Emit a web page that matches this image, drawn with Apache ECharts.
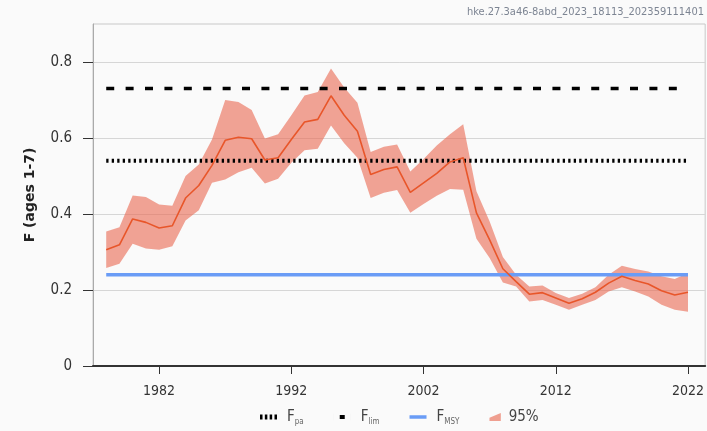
<!DOCTYPE html>
<html lang="en">
<head>
    <meta charset="UTF-8">
    <title>F (ages 1-7)</title>
    <script src="https://cdn.jsdelivr.net/npm/echarts@6/dist/echarts.min.js"></script>
    <style>
        html, body { margin: 0; padding: 0; background: #fafafa; }
        #chart { width: 707px; height: 431px; }
    </style>
</head>
<body>
    <div id="chart"></div>
    <script>
        // assessment years
        const years = [1978, 1979, 1980, 1981, 1982, 1983, 1984, 1985, 1986, 1987,
            1988, 1989, 1990, 1991, 1992, 1993, 1994, 1995, 1996, 1997,
            1998, 1999, 2000, 2001, 2002, 2003, 2004, 2005, 2006, 2007,
            2008, 2009, 2010, 2011, 2012, 2013, 2014, 2015, 2016, 2017,
            2018, 2019, 2020, 2021, 2022];
        // F estimate
        const fMean = [0.306, 0.319, 0.387, 0.378, 0.363, 0.369, 0.442, 0.475, 0.528, 0.594,
            0.602, 0.598, 0.542, 0.548, 0.596, 0.642, 0.649, 0.711, 0.660, 0.618,
            0.504, 0.517, 0.524, 0.457, 0.482, 0.507, 0.537, 0.548, 0.403, 0.332,
            0.256, 0.222, 0.189, 0.193, 0.179, 0.165, 0.177, 0.194, 0.218, 0.236,
            0.225, 0.216, 0.198, 0.187, 0.194];
        // 95% interval
        const fHigh = [0.354, 0.365, 0.449, 0.445, 0.425, 0.422, 0.500, 0.530, 0.596, 0.700,
            0.695, 0.674, 0.599, 0.610, 0.660, 0.712, 0.721, 0.783, 0.733, 0.693,
            0.563, 0.577, 0.583, 0.512, 0.545, 0.580, 0.610, 0.636, 0.460, 0.380,
            0.287, 0.240, 0.209, 0.212, 0.192, 0.179, 0.190, 0.207, 0.240, 0.264,
            0.255, 0.249, 0.236, 0.229, 0.245];
        const fLow = [0.258, 0.269, 0.322, 0.309, 0.306, 0.315, 0.383, 0.410, 0.482, 0.491,
            0.510, 0.522, 0.480, 0.493, 0.535, 0.568, 0.572, 0.633, 0.586, 0.548,
            0.442, 0.456, 0.463, 0.403, 0.426, 0.448, 0.466, 0.464, 0.335, 0.284,
            0.220, 0.209, 0.170, 0.174, 0.161, 0.148, 0.161, 0.174, 0.196, 0.207,
            0.196, 0.183, 0.161, 0.148, 0.143];
        // reference points
        const fPa = 0.54;
        const fLim = 0.73;
        const fMsy = 0.24;
        const xTicks = [1982, 1992, 2002, 2012, 2022];
        const yTicks = [0, 0.2, 0.4, 0.6, 0.8];

        const firstYear = years[0];
        const lastYear = years[years.length - 1];
        const refLine = v => [[firstYear, v], [lastYear, v]];

        const chart = echarts.init(document.getElementById('chart'));

        const subLabel = {
            Fpa: '{f|F}{s|pa}',
            Flim: '{f|F}{s|lim}',
            FMSY: '{f|F}{s|MSY}',
            '95%': '{p|95%}'
        };
        const font = 'DejaVu Sans Condensed, DejaVu Sans';

        // the 95% band as one polygon: upper edge forward, lower edge back
        function renderBand(params, api) {
            const pts = [];
            years.forEach((y, i) => pts.push(api.coord([y, fHigh[i]])));
            for (let i = years.length - 1; i >= 0; i--) {
                pts.push(api.coord([years[i], fLow[i]]));
            }
            return {
                type: 'polygon',
                shape: { points: pts },
                style: { fill: 'rgba(233,103,80,0.6)' }
            };
        }

        const option = {
            backgroundColor: '#fafafa',
            animation: false,
            graphic: [{
                type: 'text',
                right: 3,
                top: 7,
                style: {
                    text: 'hke.27.3a46-8abd_2023_18113_202359111401',
                    fill: '#7d8593',
                    font: '11px "DejaVu Sans Condensed", "DejaVu Sans", sans-serif'
                }
            }],
            grid: {
                left: 93, right: -2, top: 24, bottom: 65,
                show: true, borderColor: '#c8c8c8', borderWidth: 1,
                backgroundColor: 'transparent'
            },
            legend: {
                bottom: 0,
                left: 255,
                itemGap: 30,
                itemWidth: 17,
                itemHeight: 8,
                data: [
                    { name: 'Fpa', icon: 'path://M0,1h2.5v5h-2.5z M4.8,1h2.5v5h-2.5z M9.6,1h2.5v5h-2.5z M14.4,1h2.5v5h-2.5z', itemStyle: { color: '#000' } },
                    { name: 'Flim', icon: 'path://M6,1.5h5v4h-5z M0,0h0.01v7h-0.01z M17,0h0.01v7h-0.01z', itemStyle: { color: '#000' } },
                    { name: 'FMSY', icon: 'path://M0,2h17v3.5h-17z', itemStyle: { color: '#6a9cf6' } },
                    { name: '95%', icon: 'path://M0,12L0,7L17,0L17,12Z', itemStyle: { color: '#ef9f90' } }
                ],
                formatter: name => subLabel[name],
                textStyle: {
                    rich: {
                        f: { fontSize: 15, color: '#444', fontFamily: font, padding: [0, 0, 0, 5] },
                        s: { fontSize: 8, color: '#666', padding: [10, 0, 0, 0], fontFamily: font },
                        p: { fontSize: 15, color: '#444', fontFamily: font }
                    }
                }
            },
            xAxis: {
                type: 'value',
                min: 1977,
                max: 2023.3,
                axisLine: { lineStyle: { color: '#333', width: 2 } },
                axisTick: { customValues: xTicks, length: 8, lineStyle: { color: '#333' } },
                axisLabel: {
                    customValues: xTicks,
                    formatter: v => String(v),
                    margin: 18,
                    color: '#333',
                    fontSize: 14,
                    fontFamily: font
                },
                splitLine: { show: false }
            },
            yAxis: {
                type: 'value',
                min: 0,
                max: 0.9,
                name: 'F (ages 1-7)',
                nameLocation: 'middle',
                nameGap: 56,
                nameTextStyle: { fontWeight: 'bold', fontSize: 14, color: '#222', fontFamily: 'DejaVu Sans' },
                axisLine: { show: true, lineStyle: { color: '#aaa', width: 1 } },
                axisTick: { show: true, customValues: yTicks, length: 10, lineStyle: { color: '#333' } },
                axisLabel: {
                    customValues: yTicks,
                    margin: 21,
                    color: '#333',
                    fontSize: 15,
                    fontFamily: font
                },
                splitLine: { lineStyle: { color: '#d6d6d6', width: 1 } }
            },
            series: [
                {
                    name: 'FMSY',
                    type: 'line',
                    data: refLine(fMsy),
                    symbol: 'none',
                    lineStyle: { color: '#6a9cf6', width: 3.5 },
                    itemStyle: { color: '#6a9cf6' }
                },
                {
                    name: 'Fpa',
                    type: 'line',
                    data: refLine(fPa),
                    symbol: 'none',
                    lineStyle: { color: '#000', width: 4, type: [2.3, 3.2] },
                    itemStyle: { color: '#000' }
                },
                {
                    name: 'Flim',
                    type: 'line',
                    data: refLine(fLim),
                    symbol: 'none',
                    lineStyle: { color: '#000', width: 3.5, type: [8, 11.4] },
                    itemStyle: { color: '#000' }
                },
                {
                    name: '95%',
                    type: 'custom',
                    renderItem: renderBand,
                    data: [[firstYear, fLow[0]]],
                    itemStyle: { color: '#ef9f90' },
                    silent: true
                },
                {
                    name: 'F',
                    type: 'line',
                    data: years.map((y, i) => [y, fMean[i]]),
                    symbol: 'none',
                    lineStyle: { color: '#e8562a', width: 1.6 },
                    z: 5
                }
            ]
        };

        chart.setOption(option);
        window.addEventListener('resize', () => chart.resize());
    </script>
</body>
</html>
